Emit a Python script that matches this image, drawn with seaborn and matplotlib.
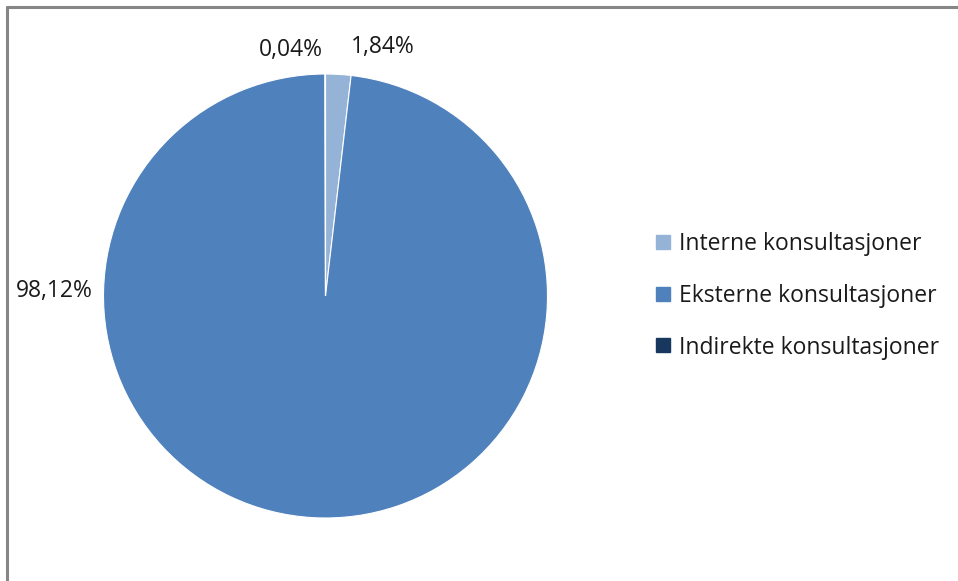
import matplotlib
matplotlib.use("Agg")
import matplotlib.pyplot as plt
from matplotlib.lines import Line2D
import numpy as np
import seaborn as sns

categories = ["Interne konsultasjoner", "Eksterne konsultasjoner", "Indirekte konsultasjoner"]
shares = [1.84, 98.12, 0.04]
value_labels = ["1,84%", "98,12%", "0,04%"]

colors = ["#95B3D7", "#4F81BD", "#17375E"]
# where each value label sits (angle in degrees, distance in radii)
label_angles = [77, 179, 98]
label_dists = [1.15, 1.22, 1.12]

sns.set_theme(style="white")
plt.rcParams["font.family"] = ["Open Sans", "DejaVu Sans"]

W, H = 958, 581
fig = plt.figure(figsize=(W / 100, H / 100), dpi=100)
fig.patch.set_facecolor("white")

cx, cy, r = 325.5, 296, 222
ax = fig.add_axes([(cx - r) / W, (H - cy - r) / H, 2 * r / W, 2 * r / H])
ax.pie(shares, colors=colors, startangle=90, counterclock=False, radius=1,
       wedgeprops=dict(edgecolor="white", linewidth=0.8))
ax.set_xlim(-1, 1)
ax.set_ylim(-1, 1)
ax.set_aspect("equal")
ax.axis("off")

for txt, ang, d in zip(value_labels, label_angles, label_dists):
    a = np.deg2rad(ang)
    ax.text(d * np.cos(a), d * np.sin(a), txt, ha="center", va="center",
            fontsize=16.5, color="#1a1a1a", clip_on=False)

handles = [Line2D([0], [0], marker="s", linestyle="none", markersize=10,
                  markerfacecolor=c, markeredgecolor=c) for c in colors]
fig.legend(handles, categories, loc="center left",
           bbox_to_anchor=(654 / W, 1 - 296 / H), frameon=False,
           fontsize=16.5, handletextpad=0.3, labelspacing=1.2,
           handlelength=0.8, borderaxespad=0, borderpad=0,
           labelcolor="#1a1a1a")

# outer frame (top and left edges visible)
frame_color = "#868686"
fig.add_artist(Line2D([7 / W, 1], [1 - 7 / H, 1 - 7 / H], transform=fig.transFigure,
                      color=frame_color, linewidth=2.2))
fig.add_artist(Line2D([7 / W, 7 / W], [0, 1 - 7 / H], transform=fig.transFigure,
                      color=frame_color, linewidth=2.2))

fig.savefig("out.png", dpi=100, facecolor="white")
